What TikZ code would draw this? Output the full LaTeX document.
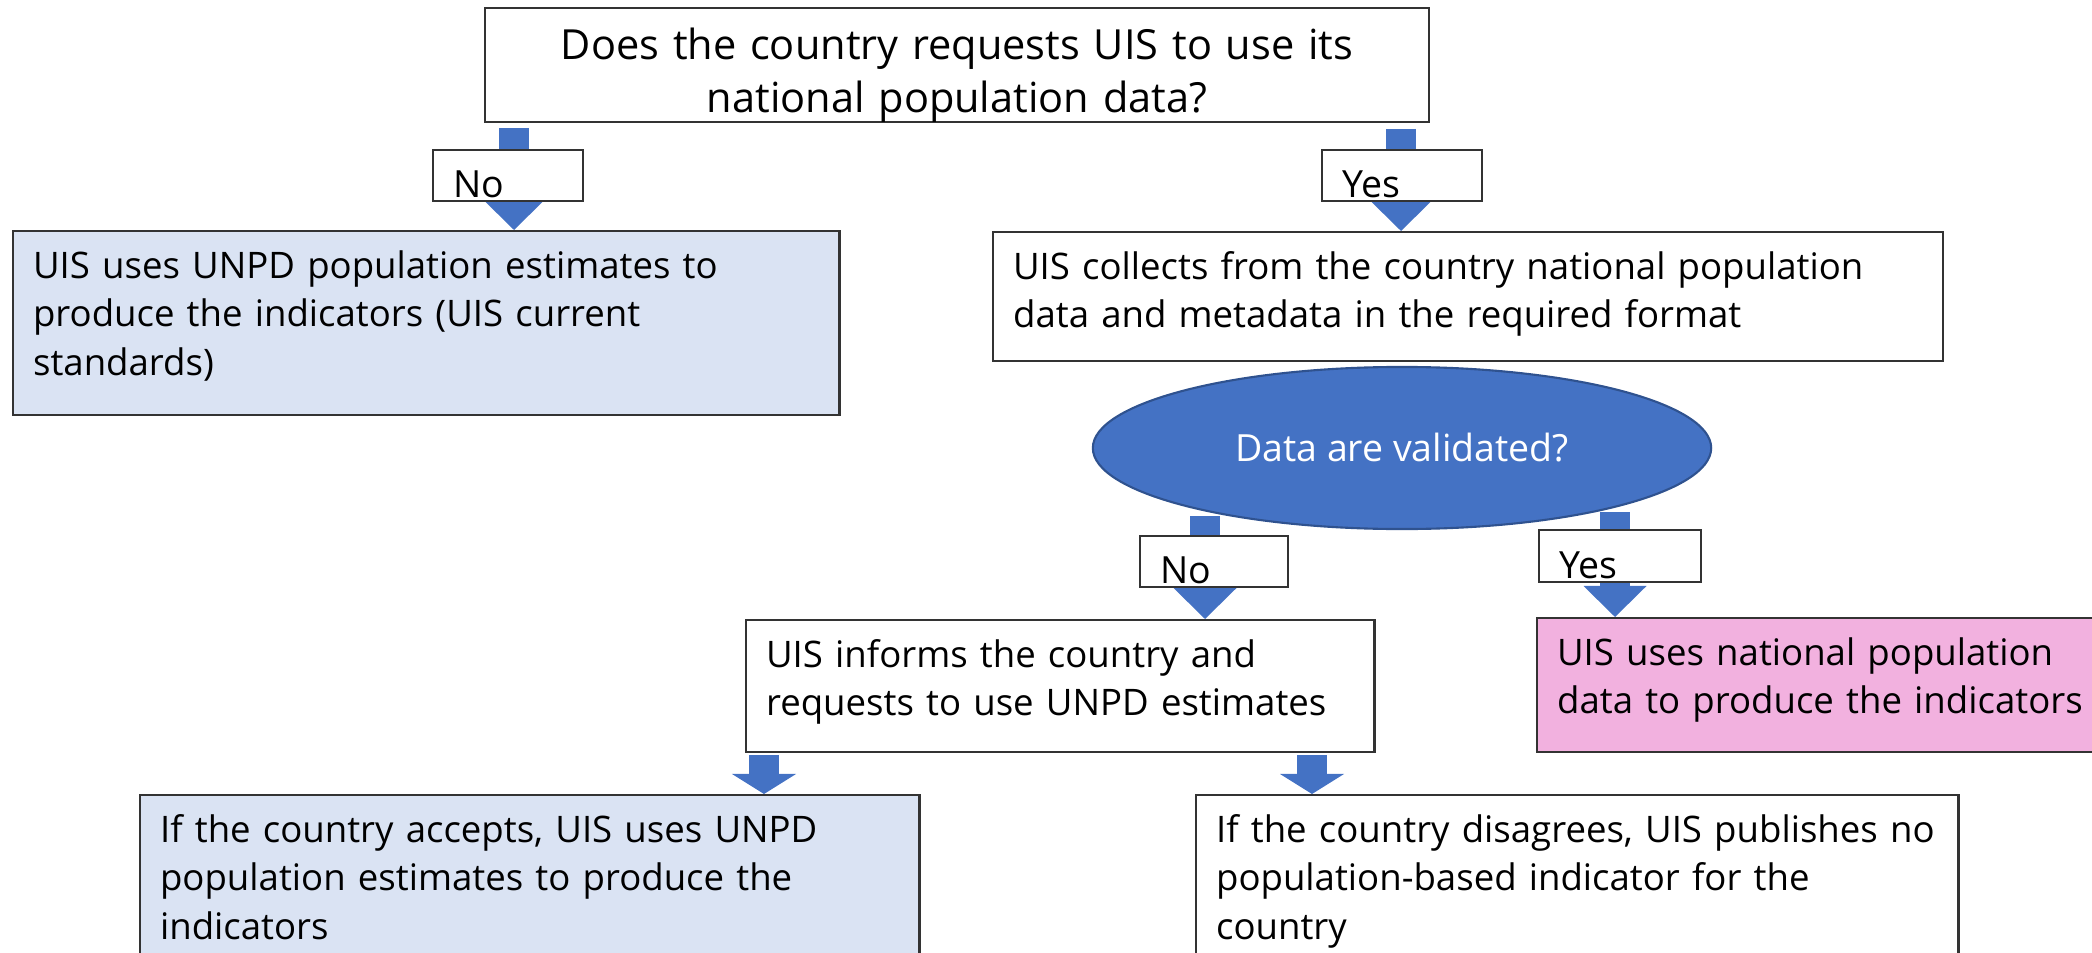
\documentclass[tikz,border=0pt]{standalone}
\usepackage{fontspec}
\setmainfont{Open Sans}
\usetikzlibrary{shapes,arrows.meta}

\definecolor{uisblue}{HTML}{4472C4}
\definecolor{uisedge}{HTML}{2F528F}
\definecolor{paleblue}{HTML}{DAE3F3}
\definecolor{palepink}{HTML}{F2B1DF}

\begin{document}
\begin{tikzpicture}[x=0.01cm, y=-0.01cm]
    \tikzstyle{every node}=[font=\fontsize{10.65}{13.94}\selectfont]
    \tikzstyle{stepbox}=[anchor=north west, align=left,
                inner xsep=0.2cm, inner ysep=0pt,
                % The border:
                draw=black!80, line width=0.6pt,
                % first line sits near the top:
                text height=0.47cm,
                font=\fontsize{10.4}{13.8}\selectfont]
    \tikzstyle{answer}=[stepbox, fill=white, text depth=0.04cm,
                font=\fontsize{10.65}{13.94}\selectfont]
    \tikzstyle{fatarrow}=[draw=uisblue, line width=0.3cm,
                -{Triangle[width=0.63cm, length=0.31cm, line width=0pt]}]
    \tikzstyle{shortarrow}=[fatarrow,
                -{Triangle[width=0.64cm, length=0.2cm, line width=0pt]}]

    \useasboundingbox (0,0) rectangle (2092,952);
    \clip (0,0) rectangle (2092,952);

    % question
    \node[stepbox, anchor=north, align=center, inner xsep=0pt, text width=9.44cm,
          text height=0.51cm, text depth=0.63cm, font=\fontsize{11.8}{15.3}\selectfont]
        (request) at (957,7) {Does the country requests UIS to use its\\national population data?};

    % outcomes
    \node[stepbox, fill=paleblue, text width=7.86cm, text depth=1.37cm] (unpd) at (12,230)
        {UIS uses UNPD population estimates to\\produce the indicators (UIS current\\standards)};
    \node[stepbox, text width=9.09cm, text depth=0.82cm] (collect) at (992,231)
        {UIS collects from the country national population\\data and metadata in the required format};
    \node[ellipse, draw=uisedge, line width=0.6pt, fill=uisblue, text=white,
          minimum width=6.18cm, minimum height=1.62cm] (valid) at (1402,448) {Data are validated?};
    \node[stepbox, text width=5.88cm, text depth=0.85cm] (inform) at (745,619)
        {UIS informs the country and\\requests to use UNPD estimates};
    \node[stepbox, fill=palepink, text width=5.44cm, text depth=0.87cm] (national) at (1536,617)
        {UIS uses national population\\data to produce the indicators};
    \node[stepbox, fill=paleblue, text width=7.39cm, text depth=1.6cm] (accept) at (139,794)
        {If the country accepts, UIS uses UNPD\\population estimates to produce the\\indicators};
    \node[stepbox, text width=7.22cm, text depth=1.6cm] (disagree) at (1195,794)
        {If the country disagrees, UIS publishes no\\population-based indicator for the\\country};

    % block arrows
    \coordinate (a1) at (514,128);
    \coordinate (a2) at (1401,129);
    \coordinate (a3) at (1205,516);
    \coordinate (a4) at (1615,512);
    \coordinate (a5) at (764,755);
    \coordinate (a6) at (1312,755);
    \draw[fatarrow] (a1) -- (a1 |- unpd.north);
    \draw[fatarrow] (a2) -- (a2 |- collect.north);
    \draw[fatarrow] (a3) -- (a3 |- inform.north);
    \draw[fatarrow] (a4) -- (a4 |- national.north);
    \draw[shortarrow] (a5) -- (a5 |- accept.north);
    \draw[shortarrow] (a6) -- (a6 |- disagree.north);

    % answers on the arrows
    \node[answer, text width=1.1cm] (no1) at (432,149) {No};
    \node[answer, text width=1.2cm] (yes1) at (1321,149) {Yes};
    \node[answer, text width=1.08cm] (no2) at (1139,535) {No};
    \node[answer, text width=1.22cm, text height=0.48cm] (yes2) at (1538,529) {Yes};
\end{tikzpicture}
\end{document}
